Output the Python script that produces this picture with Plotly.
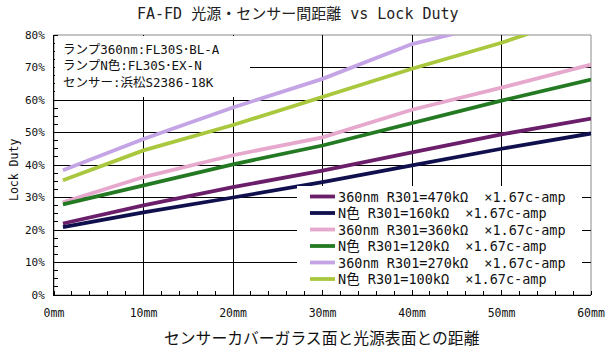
import plotly.graph_objects as go

# ---------------- data ----------------
series_names = [
    "360nm R301=470kΩ  ×1.67c-amp",
    "N色 R301=160kΩ  ×1.67c-amp",
    "360nm R301=360kΩ  ×1.67c-amp",
    "N色 R301=120kΩ  ×1.67c-amp",
    "360nm R301=270kΩ  ×1.67c-amp",
    "N色 R301=100kΩ  ×1.67c-amp",
]
series_colors = ["#6b1f6b", "#10104f", "#e6a8cc", "#237a23", "#c4a4e4", "#a9c83e"]

dist_a = [1, 10, 20, 30, 40, 50, 60]
duty_360_470k = [22.0, 27.6, 33.2, 38.3, 43.9, 49.4, 54.3]
duty_n_160k = [20.9, 25.4, 30.0, 34.7, 39.9, 45.0, 49.7]
duty_360_360k = [28.5, 36.3, 43.0, 48.5, 57.0, 63.8, 70.9]
duty_n_120k = [27.9, 33.7, 40.2, 46.0, 53.0, 59.8, 66.3]
dist_lav = [1, 10, 20, 30, 40, 45]
duty_360_270k = [38.4, 48.0, 57.7, 66.5, 77.2, 80.6]
dist_yg = [1, 10, 20, 30, 40, 50, 53]
duty_n_100k = [35.3, 44.5, 52.3, 60.8, 69.6, 77.6, 80.4]

series_x = [dist_a, dist_a, dist_a, dist_a, dist_lav, dist_yg]
series_y = [duty_360_470k, duty_n_160k, duty_360_360k, duty_n_120k, duty_360_270k, duty_n_100k]

x_ticks = [0, 10, 20, 30, 40, 50, 60]
x_tick_labels = ["0mm", "10mm", "20mm", "30mm", "40mm", "50mm", "60mm"]
y_ticks = [0, 10, 20, 30, 40, 50, 60, 70, 80]
y_tick_labels = ["0%", "10%", "20%", "30%", "40%", "50%", "60%", "70%", "80%"]

title_text = "FA-FD 光源・センサー間距離 vs Lock Duty"
x_title = "センサーカバーガラス面と光源表面との距離"
y_title = "Lock Duty"
info_lines = ["ランプ360nm:FL30S･BL-A", "ランプN色:FL30S･EX-N", "センサー:浜松S2386-18K"]

# ---------------- layout geometry ----------------
W, H = 610, 350
L, R, T, B = 54, 19, 35, 55
PW, PH = W - L - R, H - T - B
MONO = "DejaVu Sans Mono, Noto Sans CJK JP"
CJK = "Noto Sans CJK JP, DejaVu Sans Mono"


def px(xp):
    return (xp - L) / PW


def py(yp):
    return (H - B - yp) / PH


fig = go.Figure()
for xs, ys, name, col in zip(series_x, series_y, series_names, series_colors):
    fig.add_trace(go.Scatter(x=xs, y=ys, mode="lines", name=name,
                             line=dict(color=col, width=3.8), showlegend=False))

shapes = []
annotations = []
# frame (gray top/right)
shapes.append(dict(type="rect", xref="paper", yref="paper", x0=0, x1=1, y0=0, y1=1,
                   line=dict(color="#8a8a8a", width=1), layer="below"))
# info box background
shapes.append(dict(type="rect", xref="paper", yref="paper", x0=px(55), x1=px(250),
                   y0=py(97), y1=py(36), fillcolor="white", line=dict(width=0), layer="above"))
annotations.append(dict(xref="paper", yref="paper", x=px(61), y=py(40), xanchor="left",
                        yanchor="top", align="left", showarrow=False,
                        text="<br>".join(info_lines),
                        font=dict(family=MONO, size=12.5, color="#111")))
# legend box
shapes.append(dict(type="rect", xref="paper", yref="paper", x0=px(297), x1=px(582),
                   y0=py(290), y1=py(186), fillcolor="white", line=dict(width=0), layer="above"))
for i, (name, col) in enumerate(zip(series_names, series_colors)):
    yy = 196.5 + 16.5 * i
    shapes.append(dict(type="line", xref="paper", yref="paper", x0=px(310), x1=px(335),
                       y0=py(yy), y1=py(yy), line=dict(color=col, width=3.8), layer="above"))
    annotations.append(dict(xref="paper", yref="paper", x=px(336), y=py(yy), xanchor="left",
                            yanchor="middle", showarrow=False, text=name,
                            font=dict(family=MONO, size=13.5, color="#111")))

# titles
annotations.append(dict(xref="paper", yref="paper", x=px(298), y=py(14), xanchor="center",
                        yanchor="middle", showarrow=False, text=title_text,
                        font=dict(family=MONO, size=15, color="#222")))
annotations.append(dict(xref="paper", yref="paper", x=px(322), y=py(337), xanchor="center",
                        yanchor="middle", showarrow=False, text=x_title,
                        font=dict(family=CJK, size=15.8, color="#111")))
annotations.append(dict(xref="paper", yref="paper", x=px(14), y=py(170), xanchor="center",
                        yanchor="middle", showarrow=False, text=y_title, textangle=-90,
                        font=dict(family=MONO, size=11.5, color="#111")))

fig.update_layout(
    template="none",
    width=W, height=H,
    margin=dict(l=L, r=R, t=T, b=B),
    paper_bgcolor="white", plot_bgcolor="white",
    shapes=shapes, annotations=annotations,
    showlegend=False,
)
fig.update_xaxes(range=[0, 60], tickmode="array", tickvals=x_ticks, ticktext=x_tick_labels,
                 showgrid=True, gridcolor="black", gridwidth=1,
                 showline=True, linecolor="black", linewidth=1, mirror=False,
                 ticks="", ticklabelstandoff=7, zeroline=False,
                 tickfont=dict(family=MONO, size=11.5, color="#111"),
                 minor=dict(tickmode="linear", tick0=0, dtick=2, ticks="inside", ticklen=4,
                            tickcolor="black", showgrid=False))
fig.update_yaxes(range=[0, 80], tickmode="array", tickvals=y_ticks, ticktext=y_tick_labels,
                 showgrid=True, gridcolor="black", gridwidth=1,
                 showline=True, linecolor="black", linewidth=1, mirror=False,
                 ticks="", ticklabelstandoff=6, zeroline=False,
                 tickfont=dict(family=MONO, size=11, color="#111"),
                 minor=dict(tickmode="linear", tick0=0, dtick=2.5, ticks="inside", ticklen=4,
                            tickcolor="black", showgrid=False))

fig.write_html("out.html")
